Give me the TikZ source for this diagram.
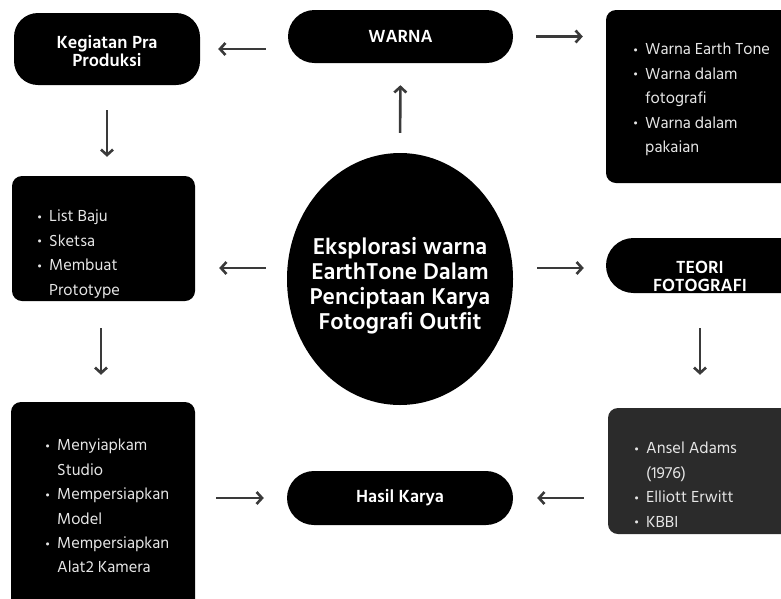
\documentclass[tikz,border=0pt]{standalone}
\usepackage{fontspec}
\setmainfont{Open Sans}
\newfontfamily\hindfont{Hind Madurai}
\usetikzlibrary{arrows.meta,shapes.geometric}
\definecolor{arrc}{HTML}{3A3A3A}
\definecolor{gboxc}{HTML}{2B2B2B}
\definecolor{listc}{HTML}{E6E6E6}
\newcommand{\bul}{\makebox[12pt][l]{\raisebox{0.5pt}{\scalebox{0.7}{\textbullet}}}}
\newcommand{\ind}{\hspace*{12pt}}
\tikzset{
  box/.style={draw=none, fill=black, rectangle, inner sep=0pt},
  pill/.style={box, font=\hindfont\bfseries\fontsize{18}{18}\selectfont, text=white, align=center},
  ttl/.style={text=white, align=center, inner sep=0pt, font=\hindfont\bfseries\fontsize{18}{18}\selectfont},
  listtext/.style={anchor=north west, inner sep=0pt, text=listc, align=left, font=\hindfont\fontsize{16.4}{24.4}\selectfont},
  arw/.style={draw=arrc, line width=2.6pt, -{Straight Barb[length=5.5pt,width=12pt]}},
}
\begin{document}
\begin{tikzpicture}[x=1pt,y=-1pt]
\clip (0,0) rectangle (781,598);
\fill[white] (0,0) rectangle (781,598);
% boxes
\node[box, minimum width=186pt, minimum height=72pt, rounded corners=24pt] (keg) at (107,49) {};
\node[pill, minimum width=225pt, minimum height=53pt, rounded corners=26.5pt] (warna) at (400.5,36.5) {WARNA};
\node[box, minimum width=205pt, minimum height=173pt, rounded corners=10pt] (wlist) at (708.5,96.5) {};
\node[box, minimum width=183pt, minimum height=125pt, rounded corners=10pt] (plist) at (103.5,238.5) {};
\node[box, ellipse, minimum width=226pt, minimum height=252pt] (ell) at (400,279) {};
\node[box, minimum width=224pt, minimum height=55pt, rounded corners=27.5pt] (teori) at (718,265.5) {};
\node[box, fill=gboxc, minimum width=212pt, minimum height=126pt, rounded corners=10pt] (tlist) at (714,471) {};
\node[box, minimum width=184pt, minimum height=218pt, rounded corners=10pt] (blist) at (103,511) {};
\node[pill, minimum width=226pt, minimum height=54pt, rounded corners=27pt] (hasil) at (400,498) {Hasil Karya};
% texts
\node[ttl] (kegT) at (107,51) {Kegiatan Pra\\Produksi};
\node[ttl, font=\hindfont\bfseries\fontsize{23.5}{25}\selectfont] (ellT) at (400,285.5) {Eksplorasi warna\\EarthTone Dalam\\Penciptaan Karya\\Fotografi Outfit};
\node[ttl] (teoriT) at (700,276) {TEORI\\FOTOGRAFI};
\node[listtext] (wlistT) at (633,43) {\bul Warna Earth Tone\\\bul Warna dalam\\\ind fotografi\\\bul Warna dalam\\\ind pakaian};
\node[listtext] (plistT) at (37,210) {\bul List Baju\\\bul Sketsa\\\bul Membuat\\\ind Prototype};
\node[listtext] (blistT) at (45,439) {\bul Menyiapkam\\\ind Studio\\\bul Mempersiapkan\\\ind Model\\\bul Mempersiapkan\\\ind Alat2 Kamera};
\node[listtext] (tlistT) at (634,442) {\bul Ansel Adams\\\ind (1976)\\\bul Elliott Erwitt\\\bul KBBI};
% arrows
\draw[arw, shorten <=22pt, shorten >=18pt] (warna.west |- keg.east) -- (keg.east);
\draw[arw, shorten <=23pt, shorten >=23pt] (warna.east) -- (warna.east -| wlist.west);
\draw[arw, shorten <=20pt, shorten >=22pt] (ell.north) -- (warna.south);
\draw[arw, shorten <=25pt, shorten >=19pt] (keg.south) -- (keg.south |- plist.north);
\draw[arw, shorten <=21pt, shorten >=24pt] ([yshift=11pt]ell.west) -- ([yshift=11pt]ell.west -| plist.east);
\draw[arw, shorten <=24pt, shorten >=22pt] ([yshift=11pt]ell.east) -- ([yshift=11pt]ell.east -| teori.west);
\draw[arw, shorten <=27pt, shorten >=27pt] ([xshift=-2.5pt]plist.south) -- ([xshift=-2.5pt]plist.south |- blist.north);
\draw[arw, shorten <=35pt, shorten >=33pt] (teoriT |- teori.south) -- (teoriT |- tlist.north);
\draw[arw, shorten <=21pt, shorten >=23pt] (blist.east |- hasil.west) -- (hasil.west);
\draw[arw, shorten <=24pt, shorten >=24pt] (tlist.west |- hasil.east) -- (hasil.east);
\end{tikzpicture}
\end{document}
